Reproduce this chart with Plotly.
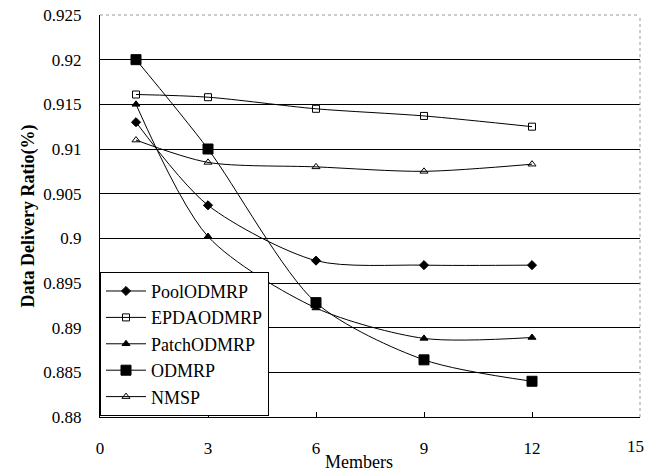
import plotly.graph_objects as go

members = [1, 3, 6, 9, 12]
pool_odmrp = [0.913, 0.9037, 0.8975, 0.8970, 0.8970]
epda_odmrp = [0.9161, 0.9158, 0.9145, 0.9137, 0.9125]
patch_odmrp = [0.9150, 0.9002, 0.8922, 0.8888, 0.8889]
odmrp = [0.9200, 0.9100, 0.8928, 0.8864, 0.8840]
nmsp = [0.9110, 0.9085, 0.9080, 0.9075, 0.9083]

x_ticks = [0, 3, 6, 9, 12, 15]
y_ticks = [0.88, 0.885, 0.89, 0.895, 0.9, 0.905, 0.91, 0.915, 0.92, 0.925]
y_labels = ["0.88", "0.885", "0.89", "0.895", "0.9", "0.905", "0.91", "0.915", "0.92", "0.925"]

series = [
    ("PoolODMRP", pool_odmrp, "diamond", 7),
    ("EPDAODMRP", epda_odmrp, "square-open", 7),
    ("PatchODMRP", patch_odmrp, "triangle-up", 7),
    ("ODMRP", odmrp, "square", 10),
    ("NMSP", nmsp, "triangle-up-open", 7),
]

font = "Times New Roman"
fig = go.Figure()
for name, vals, sym, size in series:
    fig.add_trace(go.Scatter(
        x=members, y=vals, name=name, mode="lines+markers",
        line=dict(color="black", width=1, shape="spline", smoothing=0.8),
        marker=dict(symbol=sym, size=size, color="black", line=dict(color="black", width=1)),
    ))

fig.update_layout(
    width=646, height=471,
    margin=dict(l=100, r=6, t=13, b=54),
    paper_bgcolor="white", plot_bgcolor="white",
    font=dict(family=font, size=17, color="black"),
    showlegend=True,
    legend=dict(
        x=0.0, y=0.003, xanchor="left", yanchor="bottom",
        bgcolor="white", bordercolor="black", borderwidth=1,
        font=dict(family=font, size=18, color="black"),
        tracegroupgap=0, itemwidth=40,
    ),
    xaxis=dict(
        range=[0, 15], tickvals=x_ticks[:-1], ticktext=[str(t) for t in x_ticks[:-1]],
        showgrid=False, zeroline=False, showline=True, linecolor="black", linewidth=1,
        ticks="inside", ticklen=5, tickcolor="black", mirror=False,
        ticklabelstandoff=16,
    ),
    yaxis=dict(
        range=[0.88, 0.925], tickvals=y_ticks, ticktext=y_labels,
        showgrid=True, gridcolor="black", gridwidth=1, zeroline=False,
        showline=True, linecolor="black", linewidth=1, ticks="", mirror=False,
        title=dict(text="<b>Data Delivery Ratio(%)</b>", font=dict(family=font, size=18), standoff=4),
        ticklabelstandoff=14,
    ),
)
fig.add_annotation(x=x_ticks[-1], y=0, xref="x", yref="paper", text=str(x_ticks[-1]),
                   showarrow=False, xanchor="right", xshift=6, yanchor="top", yshift=-18,
                   font=dict(family=font, size=17, color="black"))
fig.add_annotation(x=0.48, y=0, xref="paper", yref="paper", text="Members",
                   showarrow=False, xanchor="center", yanchor="top", yshift=-33,
                   font=dict(family=font, size=18, color="black"))
fig.add_shape(type="line", xref="paper", yref="paper", x0=0, x1=1, y0=1, y1=1,
              line=dict(color="#999999", width=1, dash="dot"))
fig.add_shape(type="line", xref="paper", yref="paper", x0=1, x1=1, y0=0, y1=1,
              line=dict(color="#999999", width=1, dash="dot"))

fig.write_html("out.html", config={"displayModeBar": False},
               post_script="document.body.style.margin='0';")
